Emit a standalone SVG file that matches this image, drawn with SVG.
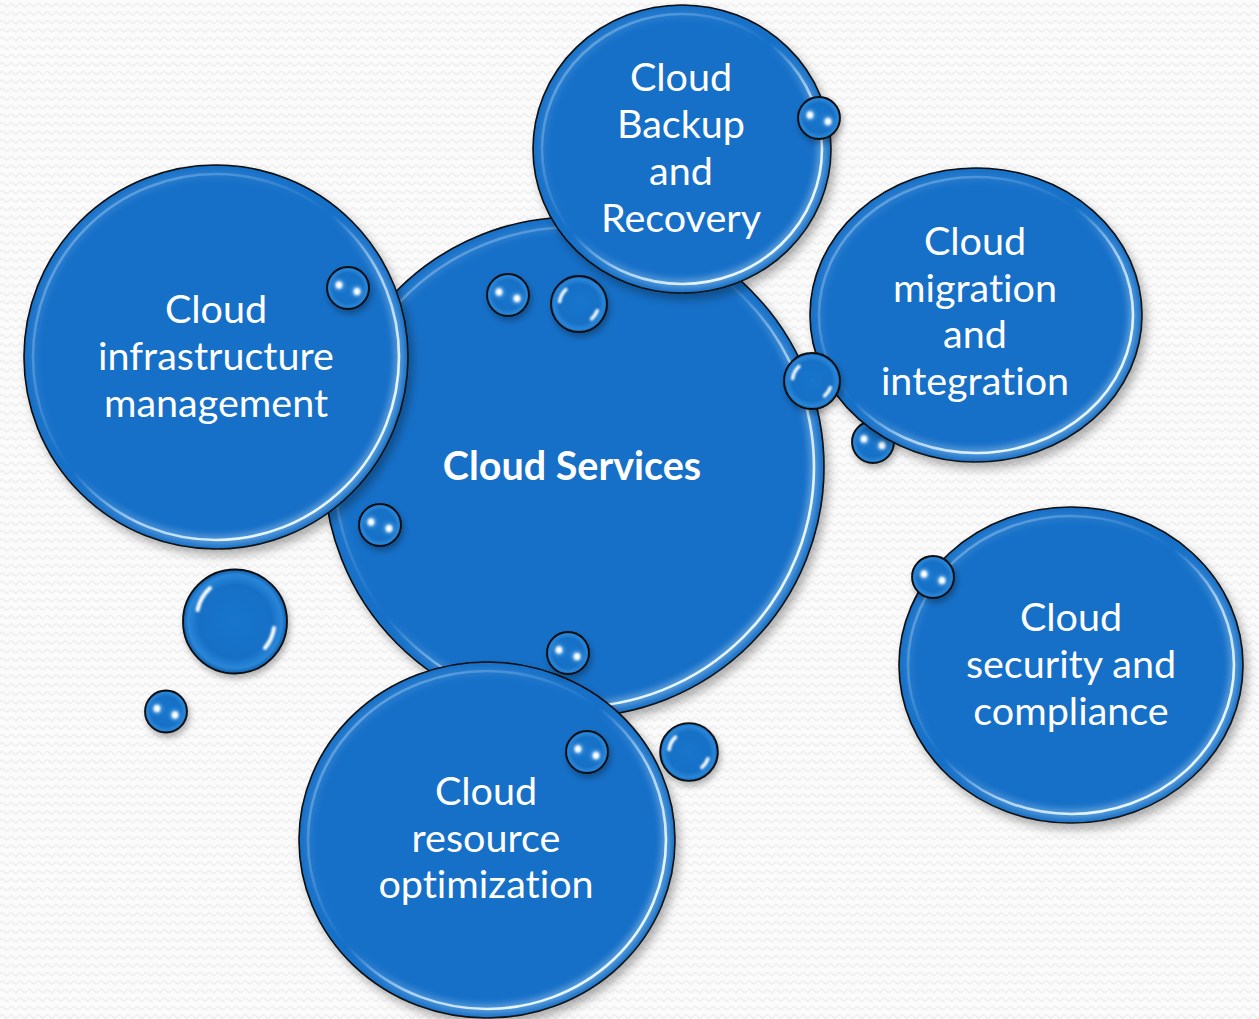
<svg xmlns="http://www.w3.org/2000/svg" xmlns:xlink="http://www.w3.org/1999/xlink" width="1259" height="1019" viewBox="0 0 1259 1019">
<defs>
<style>
.base{fill:#1370c8;stroke:#0a0a0a;stroke-width:1.6}
.ring{fill:none;stroke:url(#gRing);stroke-width:2.6}
.glow{fill:none;stroke:url(#gRing);stroke-width:9;opacity:0.35}
.lbl{font-family:Lato,"Liberation Sans",sans-serif;font-size:39.5px;fill:#ffffff;text-anchor:middle;font-variant-ligatures:none;font-feature-settings:"liga" 0,"clig" 0}
.bold{font-weight:bold;font-size:39.5px}
.sb{fill:url(#gSmall);stroke:#0a0a0a;stroke-width:1.8}
.hl{fill:none;stroke:#ffffff;stroke-linecap:round}
</style>
<pattern id="bg" width="9" height="8.5" patternUnits="userSpaceOnUse">
<rect width="9" height="8.5" fill="#fbfbfb"/>
<path d="M0 5 Q2.25 2 4.5 5 T9 5" fill="none" stroke="#ebebeb" stroke-width="1.2"/>
</pattern>
<linearGradient id="gRing" x1="0" y1="0" x2="1" y2="1">
<stop offset="0" stop-color="#cfeaff" stop-opacity="0.45"/>
<stop offset="0.3" stop-color="#cfeaff" stop-opacity="0.2"/>
<stop offset="0.46" stop-color="#cfeaff" stop-opacity="0.0"/>
<stop offset="0.62" stop-color="#d8f0ff" stop-opacity="0.7"/>
<stop offset="0.78" stop-color="#e6f6ff" stop-opacity="1"/>
<stop offset="1" stop-color="#e6f6ff" stop-opacity="1"/>
</linearGradient>
<radialGradient id="gSmall" cx="0.5" cy="0.5" r="0.5">
<stop offset="0" stop-color="#1a76cc"/>
<stop offset="0.7" stop-color="#1570c6"/>
<stop offset="0.9" stop-color="#2a86d8"/>
<stop offset="1" stop-color="#0e5eae"/>
</radialGradient>
<filter id="sh" x="-20%" y="-20%" width="140%" height="140%">
<feDropShadow dx="4" dy="6" stdDeviation="5" flood-color="#000" flood-opacity="0.3"/>
</filter>
<filter id="shs" x="-40%" y="-40%" width="180%" height="180%">
<feDropShadow dx="2" dy="4" stdDeviation="3" flood-color="#000" flood-opacity="0.3"/>
</filter>
<filter id="blur1" x="-10%" y="-10%" width="120%" height="120%"><feGaussianBlur stdDeviation="0.7"/></filter>
<filter id="blur3" x="-10%" y="-10%" width="120%" height="120%"><feGaussianBlur stdDeviation="3"/></filter>
<filter id="soft" x="-100%" y="-100%" width="300%" height="300%"><feGaussianBlur stdDeviation="0.8"/></filter>
<filter id="glowd" x="-150%" y="-150%" width="400%" height="400%"><feGaussianBlur stdDeviation="2"/></filter>
<g id="bd">
<circle r="21" class="sb" filter="url(#shs)"/>
<ellipse cx="-9" cy="-3" rx="4.5" ry="5" fill="#9fd2ff" opacity="0.7" filter="url(#glowd)"/>
<ellipse cx="9" cy="3.5" rx="4.5" ry="5" fill="#9fd2ff" opacity="0.7" filter="url(#glowd)"/>
<ellipse cx="-9" cy="-3" rx="3.2" ry="3.6" fill="#ffffff" filter="url(#soft)"/>
<ellipse cx="9" cy="3.5" rx="3.2" ry="3.6" fill="#ffffff" filter="url(#soft)"/>
</g>
<g id="ba">
<circle r="28" class="sb" filter="url(#shs)"/>
<path d="M-19.35 -2.38 A19.5 19.5 0 0 1 -13.05 -14.49" class="hl" stroke-width="3.4" filter="url(#soft)"/>
<path d="M18.32 6.67 A19.5 19.5 0 0 1 12.53 14.94" class="hl" stroke-width="3.4" filter="url(#soft)"/>
</g>
</defs>
<rect width="1259" height="1019" fill="url(#bg)"/>

<g id="n-central">
<circle cx="574" cy="467" r="250" class="base" filter="url(#sh)"/>
<circle cx="574" cy="467" r="240" class="glow" filter="url(#blur3)"/>
<circle cx="574" cy="467" r="240" class="ring" filter="url(#blur1)"/>
<text x="572" y="480" class="lbl bold">Cloud Services</text>
</g>

<g id="b-small-6"><use xlink:href="#bd" href="#bd" transform="translate(873 442)"/></g>

<g id="n-infra">
<circle cx="216" cy="357" r="192" class="base" filter="url(#sh)"/>
<circle cx="216" cy="357" r="183" class="glow" filter="url(#blur3)"/>
<circle cx="216" cy="357" r="183" class="ring" filter="url(#blur1)"/>
<text class="lbl"><tspan x="216" y="323">Cloud</tspan><tspan x="216" y="370">infrastructure</tspan><tspan x="216" y="417">management</tspan></text>
</g>

<g id="n-backup">
<ellipse cx="682" cy="149" rx="149" ry="144" class="base" filter="url(#sh)"/>
<ellipse cx="682" cy="149" rx="140" ry="135" class="glow" filter="url(#blur3)"/>
<ellipse cx="682" cy="149" rx="140" ry="135" class="ring" filter="url(#blur1)"/>
<text class="lbl"><tspan x="681" y="91">Cloud</tspan><tspan x="681" y="138">Backup</tspan><tspan x="681" y="185">and</tspan><tspan x="681" y="232">Recovery</tspan></text>
</g>

<g id="n-migration">
<ellipse cx="976" cy="315" rx="166" ry="147" class="base" filter="url(#sh)"/>
<ellipse cx="976" cy="315" rx="157" ry="138" class="glow" filter="url(#blur3)"/>
<ellipse cx="976" cy="315" rx="157" ry="138" class="ring" filter="url(#blur1)"/>
<text class="lbl"><tspan x="975" y="255">Cloud</tspan><tspan x="975" y="302">migration</tspan><tspan x="975" y="348">and</tspan><tspan x="975" y="395">integration</tspan></text>
</g>

<g id="n-security">
<ellipse cx="1071" cy="665" rx="172" ry="158" class="base" filter="url(#sh)"/>
<ellipse cx="1071" cy="665" rx="163" ry="149" class="glow" filter="url(#blur3)"/>
<ellipse cx="1071" cy="665" rx="163" ry="149" class="ring" filter="url(#blur1)"/>
<text class="lbl"><tspan x="1071" y="631">Cloud</tspan><tspan x="1071" y="678">security and</tspan><tspan x="1071" y="725">compliance</tspan></text>
</g>

<g id="n-resource">
<ellipse cx="487" cy="840" rx="188" ry="178" class="base" filter="url(#sh)"/>
<ellipse cx="487" cy="840" rx="179" ry="169" class="glow" filter="url(#blur3)"/>
<ellipse cx="487" cy="840" rx="179" ry="169" class="ring" filter="url(#blur1)"/>
<text class="lbl"><tspan x="486" y="805">Cloud</tspan><tspan x="486" y="852">resource</tspan><tspan x="486" y="898">optimization</tspan></text>
</g>

<g id="bubbles">
<use xlink:href="#bd" href="#bd" transform="translate(819 118)"/>
<use xlink:href="#bd" href="#bd" transform="translate(348 288)"/>
<use xlink:href="#bd" href="#bd" transform="translate(508 295)"/>
<use xlink:href="#ba" href="#ba" transform="translate(579 304)"/>
<use xlink:href="#ba" href="#ba" transform="translate(812 381)"/>
<use xlink:href="#bd" href="#bd" transform="translate(380 525)"/>
<use xlink:href="#bd" href="#bd" transform="translate(933 577)"/>
<use xlink:href="#bd" href="#bd" transform="translate(166 711.5)"/>
<use xlink:href="#bd" href="#bd" transform="translate(568 653)"/>
<use xlink:href="#bd" href="#bd" transform="translate(587 752)"/>
<use xlink:href="#ba" href="#ba" transform="translate(689 752) scale(1.03)"/>
<g id="b-large">
<circle cx="235" cy="621.5" r="52" class="sb" filter="url(#shs)"/>
<path d="M197.6 610 A40 40 0 0 1 210 588" class="hl" stroke-width="4" filter="url(#soft)"/>
<path d="M274 628 A40 40 0 0 1 265 648" class="hl" stroke-width="4" filter="url(#soft)"/>
</g>
</g>
</svg>
